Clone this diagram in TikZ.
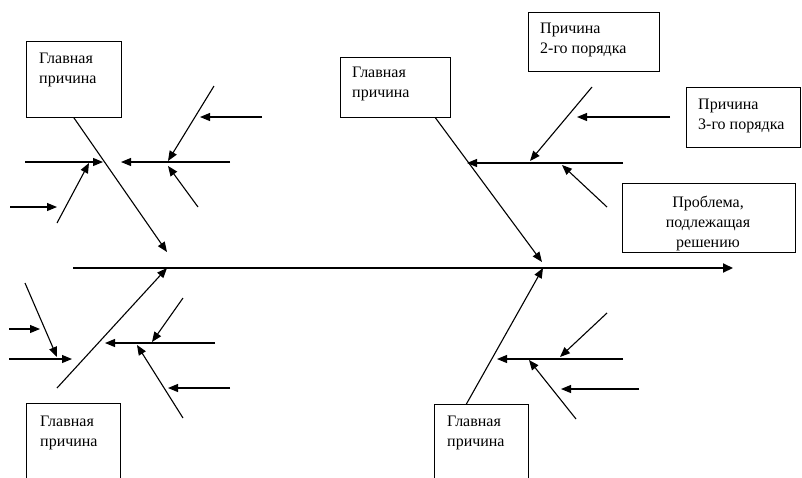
\documentclass[tikz,border=0pt]{standalone}
\usepackage{fontspec}
\setmainfont{Liberation Serif}
\usetikzlibrary{arrows.meta}

\begin{document}
\begin{tikzpicture}[x=1pt, y=-1pt,
  box/.style={draw, line width=0.8pt, anchor=north west, inner sep=0pt},
  lbl/.style={anchor=base west, align=left, inner sep=0pt,
    font=\fontsize{16}{20}\selectfont},
  arr/.style={-{Triangle[length=10pt,width=8pt]}, line width=1.1pt},
  spine/.style={-{Triangle[length=10pt,width=9pt]}, line width=2pt}
]
\useasboundingbox (0,0) rectangle (802,477);
\clip (0,0) rectangle (802,477);

% boxes
\node[box, minimum width=95pt,  minimum height=76pt] (gp1) at (26,41) {};
\node[box, minimum width=110pt, minimum height=60pt] (gp2) at (340,57) {};
\node[box, minimum width=131pt, minimum height=59pt] (ord2) at (528,12) {};
\node[box, minimum width=114pt, minimum height=60pt] (ord3) at (686,87) {};
\node[box, minimum width=173pt, minimum height=69pt] (prob) at (622,183) {};
\node[box, minimum width=94pt,  minimum height=90pt] (gp3) at (26,403) {};
\node[box, minimum width=94pt,  minimum height=90pt] (gp4) at (434,404) {};

% texts (base = last line)
\node[lbl] (t1) at (39,83)  {Главная\\причина};
\node[lbl] (t2) at (352,97) {Главная\\причина};
\node[lbl] (t3) at (540,53) {Причина\\2-го порядка};
\node[lbl] (t4) at (698,129) {Причина\\3-го порядка};
\node[lbl, anchor=base, align=center] (t5) at (708,247)
  {Проблема,\\подлежащая\\решению};
\node[lbl] (t6) at (40,446)  {Главная\\причина};
\node[lbl] (t7) at (447,446) {Главная\\причина};

% spine
\coordinate (sp0) at (73,268);
\coordinate (sp1) at (733,268);
\draw[spine] (sp0) -- (sp1);

% upper left bone
\coordinate (b1) at (167,252);
\coordinate (a1s) at (25,162);  \coordinate (a1e) at (103,162);
\coordinate (a2s) at (57,223);  \coordinate (a2e) at (89,163);
\coordinate (a3s) at (10,207);  \coordinate (a3e) at (57,207);
\coordinate (a4s) at (230,162); \coordinate (a4e) at (121,162);
\coordinate (a5s) at (214,86);  \coordinate (a5e) at (168,161);
\coordinate (a6s) at (262,117); \coordinate (a6e) at (200,117);
\coordinate (a7s) at (198,207); \coordinate (a7e) at (168,166);
\draw[arr] (gp1.south) -- (b1);
\draw[arr] (a1s) -- (a1e);
\draw[arr] (a2s) -- (a2e);
\draw[arr] (a3s) -- (a3e);
\draw[arr] (a4s) -- (a4e);
\draw[arr] (a5s) -- (a5e);
\draw[arr] (a6s) -- (a6e);
\draw[arr] (a7s) -- (a7e);

% upper right bone
\coordinate (b2) at (542,262);
\coordinate (c1s) at (623,163); \coordinate (c1e) at (467,163);
\coordinate (c2s) at (592,87);  \coordinate (c2e) at (530,161);
\coordinate (c3s) at (670,117); \coordinate (c3e) at (577,117);
\coordinate (c4s) at (607,207); \coordinate (c4e) at (562,165);
\draw[arr] ([xshift=40pt]gp2.south) -- (b2);
\draw[arr] (c1s) -- (c1e);
\draw[arr] (c2s) -- (c2e);
\draw[arr] (c3s) -- (c3e);
\draw[arr] (c4s) -- (c4e);

% lower left bone
\coordinate (b3s) at (57,388);  \coordinate (b3) at (167,268);
\coordinate (d1s) at (215,343); \coordinate (d1e) at (105,343);
\coordinate (d2s) at (183,298); \coordinate (d2e) at (152,342);
\coordinate (d3s) at (183,418); \coordinate (d3e) at (137,345);
\coordinate (d4s) at (230,388); \coordinate (d4e) at (168,388);
\coordinate (d5s) at (25,283);  \coordinate (d5e) at (57,357);
\coordinate (d6s) at (9,329);   \coordinate (d6e) at (40,329);
\coordinate (d7s) at (9,359);   \coordinate (d7e) at (72,359);
\draw[arr] (b3s) -- (b3);
\draw[arr] (d1s) -- (d1e);
\draw[arr] (d2s) -- (d2e);
\draw[arr] (d3s) -- (d3e);
\draw[arr] (d4s) -- (d4e);
\draw[arr] (d5s) -- (d5e);
\draw[arr] (d6s) -- (d6e);
\draw[arr] (d7s) -- (d7e);

% lower right bone
\coordinate (b4) at (543,268);
\coordinate (e1s) at (623,359); \coordinate (e1e) at (497,359);
\coordinate (e2s) at (607,313); \coordinate (e2e) at (560,357);
\coordinate (e3s) at (576,419); \coordinate (e3e) at (529,360);
\coordinate (e4s) at (639,389); \coordinate (e4e) at (561,389);
\draw[arr] ([xshift=-15pt]gp4.north) -- (b4);
\draw[arr] (e1s) -- (e1e);
\draw[arr] (e2s) -- (e2e);
\draw[arr] (e3s) -- (e3e);
\draw[arr] (e4s) -- (e4e);
\end{tikzpicture}
\end{document}
